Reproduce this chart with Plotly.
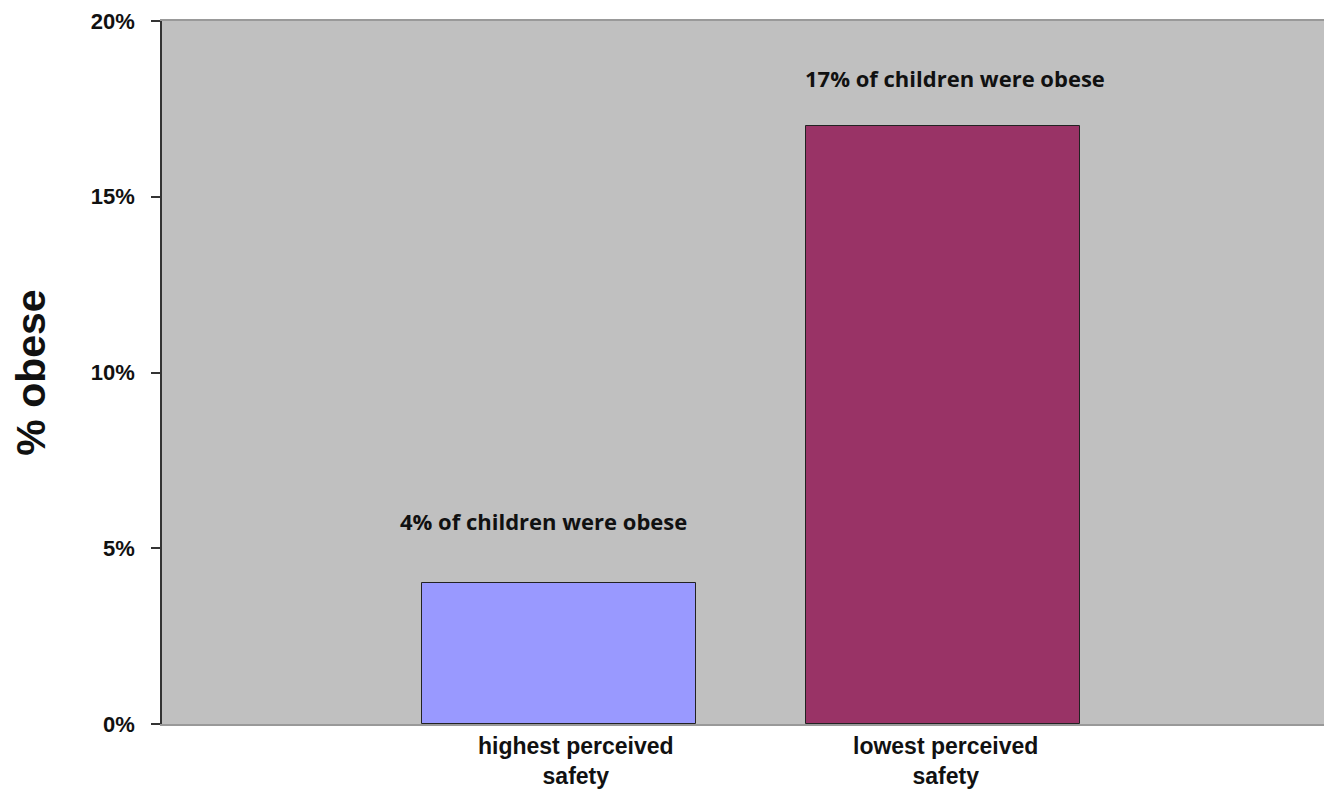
import plotly.graph_objects as go

categories = ["highest perceived<br>safety", "lowest perceived<br>safety"]
values = [4, 17]
bar_labels = ["4% of children were obese", "17% of children were obese"]
colors = ["#9999FF", "#993366"]
y_ticks = [0, 5, 10, 15, 20]
y_tick_text = ["0%", "5%", "10%", "15%", "20%"]

xpos = list(range(len(categories)))

fig = go.Figure()
fig.add_trace(go.Bar(
    x=xpos, y=values, width=0.714,
    marker=dict(color=colors, line=dict(color="#222222", width=1)),
    hoverinfo="skip",
))

# value annotations above bars
label_shift = [(-16, 45), (12, 31)]
for i, (v, t) in enumerate(zip(values, bar_labels)):
    fig.add_annotation(
        x=xpos[i], y=v, text=t, showarrow=False,
        xanchor="center", yanchor="bottom",
        xshift=label_shift[i][0], yshift=label_shift[i][1],
        font=dict(family="Open Sans", size=22, color="#111111", weight="bold"),
    )

# category labels
cat_shift = [17, 2]
for i, c in enumerate(categories):
    fig.add_annotation(
        x=xpos[i], y=0, yref="y", text=c, showarrow=False,
        xanchor="center", yanchor="top", yshift=-7, xshift=cat_shift[i],
        font=dict(family="Liberation Sans", size=23, color="#111111", weight="bold"),
    )

fig.update_layout(
    width=1324, height=794,
    margin=dict(l=162, r=0, t=21, b=70),
    paper_bgcolor="white",
    plot_bgcolor="#C0C0C0",
    showlegend=False,
    bargap=0,
    xaxis=dict(
        range=[-1.034, 1.992], showticklabels=False, ticks="",
        showgrid=False, zeroline=False,
        showline=True, linecolor="#999999", linewidth=1.5, mirror=True,
    ),
    yaxis=dict(
        range=[0, 20], tickvals=y_ticks, ticktext=y_tick_text,
        ticks="outside", ticklen=9, tickcolor="#333333", tickwidth=1.5,
        showgrid=False, zeroline=False,
        showline=True, linecolor="#333333", linewidth=1.5,
        tickfont=dict(family="Liberation Sans", size=22, color="#111111", weight="bold"),
        ticklabelstandoff=12,
        title=dict(text="% obese", standoff=32,
                   font=dict(family="Liberation Sans", size=41, color="#111111", weight="bold")),
    ),
)

fig.write_html("out.html")
